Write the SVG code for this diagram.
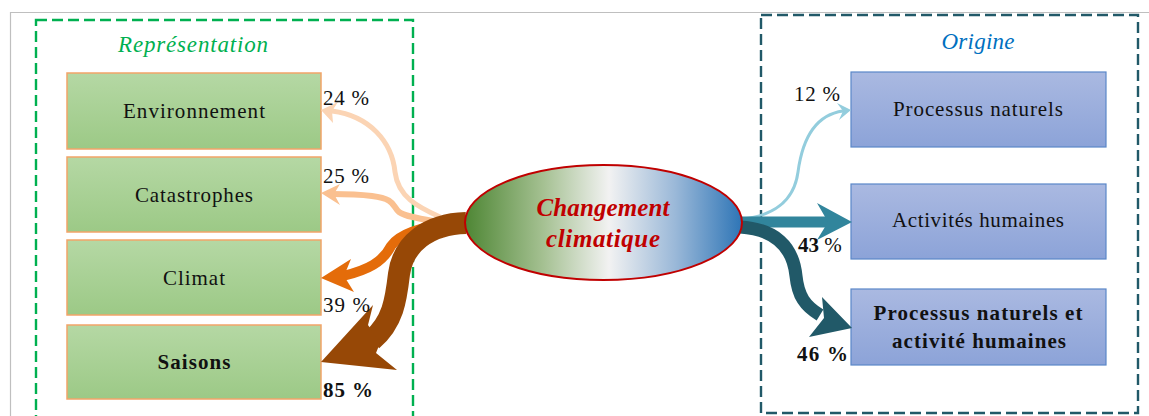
<svg xmlns="http://www.w3.org/2000/svg" width="1149" height="416" viewBox="0 0 1149 416">
  <defs>
    <linearGradient id="gGreen" x1="0" y1="0" x2="0" y2="1">
      <stop offset="0" stop-color="#B5D8A4"/>
      <stop offset="1" stop-color="#9CC986"/>
    </linearGradient>
    <linearGradient id="gBlue" x1="0" y1="0" x2="0" y2="1">
      <stop offset="0" stop-color="#AAB9E1"/>
      <stop offset="1" stop-color="#8CA3D8"/>
    </linearGradient>
    <linearGradient id="gCore" x1="0" y1="0" x2="1" y2="0">
      <stop offset="0" stop-color="#4E8634"/>
      <stop offset="0.28" stop-color="#A4C091"/>
      <stop offset="0.52" stop-color="#F2F2F2"/>
      <stop offset="0.76" stop-color="#9AB8D8"/>
      <stop offset="1" stop-color="#2E75B6"/>
    </linearGradient>
    <style>
      .serif { font-family: "Liberation Serif", "DejaVu Serif", serif; }
      .lbl { font-size: 21px; fill: #111; }
      .pct { font-size: 21px; fill: #111; }
      .b { font-weight: bold; }
      .rep { fill: url(#gGreen); stroke: #F2A468; stroke-width: 1.5; }
      .ori { fill: url(#gBlue); stroke: #5A87C8; stroke-width: 1.2; }
      .frame { fill: none; stroke: #BFBFBF; stroke-width: 1.2; }
      .zoneL { fill: none; stroke: #00B050; stroke-width: 2.4; stroke-dasharray: 11 5; }
      .zoneR { fill: none; stroke: #215968; stroke-width: 2.4; stroke-dasharray: 11 5; }
      .shaft { fill: none; stroke-linecap: butt; }
    </style>
  </defs>

  <!-- page frame -->
  <path class="frame" d="M10.5 416 V12.5 H1149"/>

  <!-- zone: representation -->
  <g id="zone-representation">
    <rect class="zoneL" x="36" y="20" width="377" height="410"/>
    <text class="serif" x="193" y="52" text-anchor="middle" font-size="23" font-style="italic" fill="#00B050" textLength="150">Représentation</text>
  </g>

  <!-- zone: origine -->
  <g id="zone-origine">
    <rect class="zoneR" x="761" y="15" width="377" height="398"/>
    <text class="serif" x="978" y="49" text-anchor="middle" font-size="23" font-style="italic" fill="#0070C0" textLength="73">Origine</text>
  </g>

  <!-- left nodes -->
  <g id="node-environnement">
    <rect class="rep" x="67" y="73" width="254" height="76"/>
    <text class="serif lbl" x="194" y="118" text-anchor="middle" textLength="142">Environnement</text>
  </g>
  <g id="node-catastrophes">
    <rect class="rep" x="67" y="157" width="254" height="75"/>
    <text class="serif lbl" x="194" y="202" text-anchor="middle" textLength="118">Catastrophes</text>
  </g>
  <g id="node-climat">
    <rect class="rep" x="67" y="240" width="254" height="75"/>
    <text class="serif lbl" x="194" y="285" text-anchor="middle" textLength="62">Climat</text>
  </g>
  <g id="node-saisons">
    <rect class="rep" x="67" y="325" width="254" height="74"/>
    <text class="serif lbl b" x="194" y="369" text-anchor="middle" textLength="73">Saisons</text>
  </g>

  <!-- right nodes -->
  <g id="node-processus">
    <rect class="ori" x="851" y="72" width="255" height="75"/>
    <text class="serif lbl" x="978" y="116" text-anchor="middle" textLength="170">Processus naturels</text>
  </g>
  <g id="node-activites">
    <rect class="ori" x="851" y="184" width="255" height="75"/>
    <text class="serif lbl" x="978" y="227" text-anchor="middle" textLength="172">Activités humaines</text>
  </g>
  <g id="node-mixte">
    <rect class="ori" x="851" y="289" width="255" height="76"/>
    <text class="serif lbl b" x="978" y="320" text-anchor="middle" textLength="209">Processus naturels et</text>
    <text class="serif lbl b" x="979" y="348" text-anchor="middle" textLength="174">activité humaines</text>
  </g>

  <!-- connectors -->
  <g id="connectors">
    <!-- 24 % -->
    <path class="shaft" stroke="#FBD4B4" stroke-width="5" d="M440 217 C418 207 398 197 395 172 C392 142 370 116 332 111"/>
    <polygon fill="#FBD4B4" points="321,110 338,102 332,111 333,123"/>
    <!-- 25 % -->
    <path class="shaft" stroke="#FAC090" stroke-width="6" d="M440 222 C422 219 406 217 399 212 C392 206 396 199 372 196 C356 194 344 194 332 194"/>
    <polygon fill="#FAC090" points="321,193 340,184 334,194 340,205"/>
    <!-- 39 % -->
    <path class="shaft" stroke="#E46C0A" stroke-width="10" d="M455 223 C425 226 400 233 391 246 C383 262 368 270 343 276"/>
    <polygon fill="#E46C0A" points="321,278 351,259 344,276 354,292"/>
    <!-- 85 % -->
    <path class="shaft" stroke="#974806" stroke-width="22" d="M466 223 C428 224 403 244 399 274 C396 300 393 322 372 340"/>
    <polygon fill="#974806" points="321,362 373,305 368,325 380,343 376,353 397,370"/>
    <!-- 12 % -->
    <path class="shaft" stroke="#93CDDD" stroke-width="3" d="M742 219 C772 216 794 202 798 172 C802 142 814 115 843 111"/>
    <polygon fill="#93CDDD" points="851,110 837,103 843,111 839,120"/>
    <!-- 43 % -->
    <path class="shaft" stroke="#31859C" stroke-width="11" d="M740 222 L828 222"/>
    <polygon fill="#31859C" points="852,222 817,203 828,222 817,240"/>
    <!-- 46 % -->
    <path class="shaft" stroke="#215968" stroke-width="13" d="M740 227 C775 229 793 246 796 276 C798 296 805 306 820 315"/>
    <polygon fill="#215968" points="852,328 822,297 824,318 809,337"/>
  </g>

  <!-- central node -->
  <g id="node-changement">
    <ellipse cx="603.5" cy="222.5" rx="138.5" ry="57.5" fill="url(#gCore)" stroke="#C00000" stroke-width="2"/>
    <text class="serif" x="603" y="216" text-anchor="middle" font-size="25" font-weight="bold" font-style="italic" fill="#C00000" textLength="133">Changement</text>
    <text class="serif" x="603" y="247" text-anchor="middle" font-size="25" font-weight="bold" font-style="italic" fill="#C00000" textLength="114">climatique</text>
  </g>

  <!-- percentages -->
  <g id="labels">
    <text class="serif pct" x="323" y="105" textLength="46">24 %</text>
    <text class="serif pct" x="323" y="183" textLength="46">25 %</text>
    <text class="serif pct" x="323" y="312" textLength="47">39 %</text>
    <text class="serif pct b" x="323" y="397" textLength="50">85 %</text>
    <text class="serif pct" x="794" y="101" textLength="46">12 %</text>
    <text class="serif pct" x="798" y="252"><tspan class="b">43</tspan> %</text>
    <text class="serif pct b" x="797" y="361" textLength="51">46 %</text>
  </g>
</svg>
